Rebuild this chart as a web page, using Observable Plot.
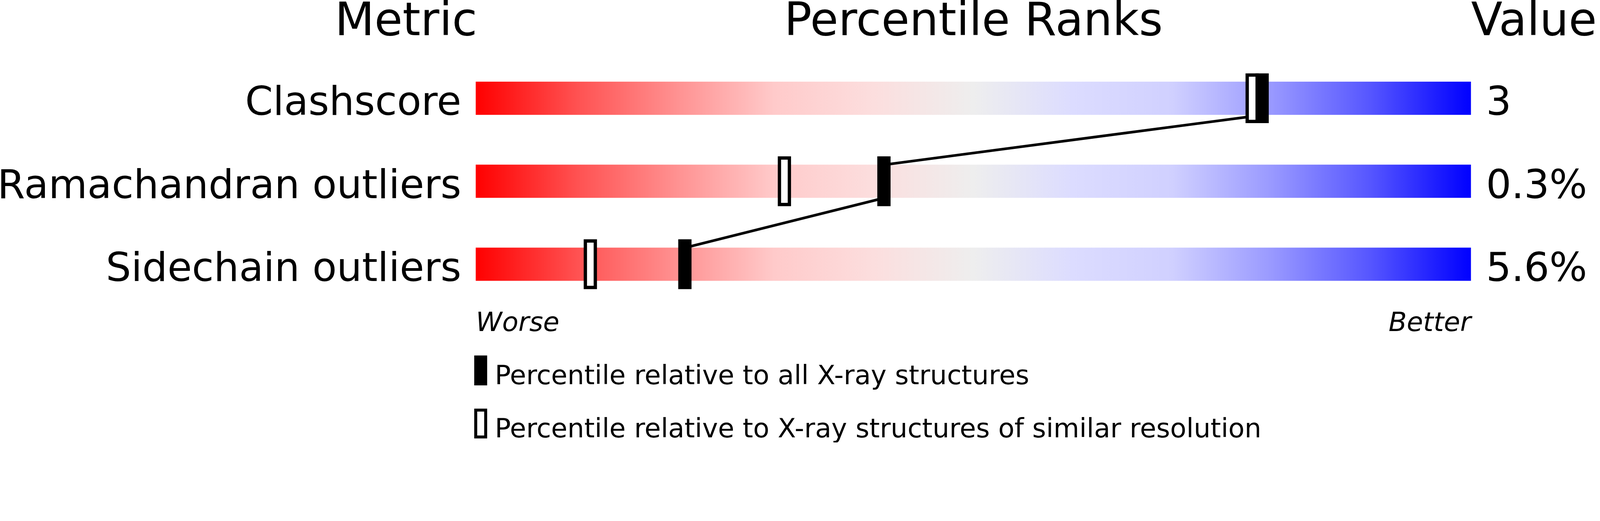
<!DOCTYPE html>
<html>
<head>
<meta charset="utf-8">
<script src="https://cdn.jsdelivr.net/npm/d3@7"></script>
<script src="https://cdn.jsdelivr.net/npm/@observablehq/plot@0.6"></script>
<style>
  html, body { margin: 0; padding: 0; background: #fff; }
  svg { display: block; }
</style>
</head>
<body>
<div id="chart"></div>
<script>
// ---- data ----
const metrics = ["Clashscore", "Ramachandran outliers", "Sidechain outliers"];
const metricValues = ["3", "0.3%", "5.6%"];
const pctAll = [79, 41, 21];          // percentile relative to all X-ray structures
const pctSimilar = [78, 31, 11.5];    // percentile relative to similar resolution
const headers = ["Metric", "Percentile Ranks", "Value"];
const endLabels = ["Worse", "Better"];
const legendLabels = [
  "Percentile relative to all X-ray structures",
  "Percentile relative to X-ray structures of similar resolution"
];
// gradient of the slider (style)
const gradientOffsets = [0, 0.1, 0.2, 0.3, 0.4, 0.5, 0.6, 0.7, 0.8, 0.9, 1];
const gradientColors = ["#ff0000", "#ff5050", "#ff9090", "#ffcaca", "#fcdede", "#eeeeee",
                        "#dcdcff", "#d0d0ff", "#9999ff", "#5555ff", "#0000ff"];

// ---- layout constants ----
const W = 4823, H = 1333;
const BAR_HALF = 0.2, MARK_HALF = 0.3, INNER_HALF = 0.26;

const rows = metrics.map((metric, i) => ({
  metric, value: metricValues[i], all: pctAll[i], similar: pctSimilar[i], row: i
}));
const links = d3.pairs(rows);

const gradientDefs = () => {
  const defs = d3.create("svg:defs");
  const g = defs.append("linearGradient")
    .attr("id", "pct-grad").attr("x1", 0).attr("x2", 1).attr("y1", 0).attr("y2", 0);
  g.selectAll("stop").data(gradientOffsets).join("stop")
    .attr("offset", d => d)
    .attr("stop-color", (d, i) => gradientColors[i]);
  return defs.node();
};

const textBase = {frameAnchor: "top", lineAnchor: "bottom", text: d => d};

const chart = Plot.plot({
  width: W,
  height: H,
  margin: 0,
  style: {fontFamily: "'DejaVu Sans', sans-serif", background: "white"},
  x: {domain: [0, 100], range: [1434, 4434], axis: null},
  y: {domain: [0, metrics.length - 1], range: [296, 796], axis: null},
  marks: [
    gradientDefs,
    // gradient bars
    Plot.rect(rows, {
      x1: 0, x2: 100,
      y1: d => d.row - BAR_HALF, y2: d => d.row + BAR_HALF,
      fill: "url(#pct-grad)"
    }),
    // connecting line between "all" markers
    Plot.link(links, {
      x1: ([a]) => a.all, y1: ([a]) => a.row + BAR_HALF,
      x2: ([, b]) => b.all, y2: ([, b]) => b.row - BAR_HALF,
      stroke: "black", strokeWidth: 8
    }),
    // hollow markers (similar resolution)
    Plot.ruleX(rows, {
      x: "similar", y1: d => d.row - MARK_HALF, y2: d => d.row + MARK_HALF,
      stroke: "black", strokeWidth: 40
    }),
    Plot.ruleX(rows, {
      x: "similar", y1: d => d.row - INNER_HALF, y2: d => d.row + INNER_HALF,
      stroke: "white", strokeWidth: 20
    }),
    // filled markers (all structures)
    Plot.ruleX(rows, {
      x: "all", y1: d => d.row - MARK_HALF, y2: d => d.row + MARK_HALF,
      stroke: "black", strokeWidth: 40
    }),
    // row labels and values
    Plot.text(rows, {
      x: 0, y: "row", text: "metric", textAnchor: "end",
      dx: -44, dy: 50, lineAnchor: "bottom", fontSize: 120, fill: "black"
    }),
    Plot.text(rows, {
      x: 100, y: "row", text: "value", textAnchor: "start",
      dx: 45, dy: 50, lineAnchor: "bottom", fontSize: 120, fill: "black"
    }),
    // headers
    Plot.text([headers[0]], {...textBase, x: 0, dy: 106, dx: 4, textAnchor: "end", fontSize: 138, fill: "black"}),
    Plot.text([headers[1]], {...textBase, x: 50, dy: 106, textAnchor: "middle", fontSize: 138, fill: "black"}),
    Plot.text([headers[2]], {...textBase, x: 100, dy: 106, textAnchor: "start", fontSize: 138, fill: "black"}),
    // worse / better
    Plot.text([endLabels[0]], {...textBase, x: 0, dy: 997, textAnchor: "start", fontSize: 80, fontStyle: "italic", fill: "black"}),
    Plot.text([endLabels[1]], {...textBase, x: 100, dy: 997, textAnchor: "end", fontSize: 80, fontStyle: "italic", fill: "black"}),
    // legend swatches
    Plot.ruleX([0], {dx: 14.5, insetTop: 1071, insetBottom: H - 1161, stroke: "black", strokeWidth: 39}),
    Plot.ruleX([0], {dx: 14.5, insetTop: 1231, insetBottom: H - 1321, stroke: "black", strokeWidth: 39}),
    Plot.ruleX([0], {dx: 14.5, insetTop: 1240, insetBottom: H - 1312, stroke: "white", strokeWidth: 21}),
    // legend labels
    Plot.text([legendLabels[0]], {...textBase, x: 0, dx: 57, dy: 1157, textAnchor: "start", fontSize: 80, fill: "black"}),
    Plot.text([legendLabels[1]], {...textBase, x: 0, dx: 57, dy: 1317, textAnchor: "start", fontSize: 80, fill: "black"})
  ]
});

document.getElementById("chart").append(chart);
</script>
</body>
</html>
